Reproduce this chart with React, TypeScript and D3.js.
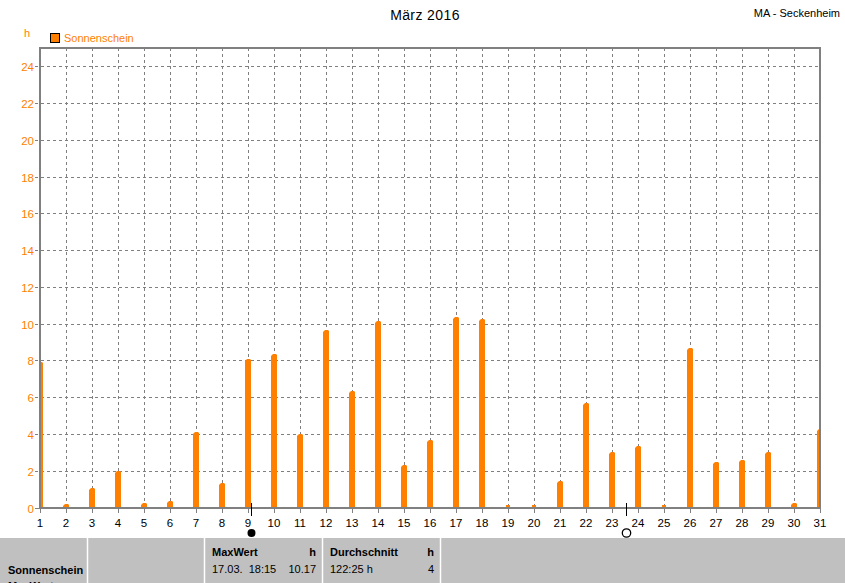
import React from "react";
import * as d3 from "d3";

const days: number[] = Array.from({ length: 31 }, (_, i) => i + 1);
const sunshine: number[] = [
  7.9, 0.19, 1.06, 1.99, 0.25, 0.38, 4.12, 1.35, 8.09, 8.36,
  4.0, 9.67, 6.34, 10.12, 2.29, 3.67, 10.38, 10.27, 0.05, 0.05,
  1.44, 5.69, 3.02, 3.35, 0.05, 8.7, 2.48, 2.59, 3.04, 0.22, 4.29,
];
const yTicks: number[] = [0, 2, 4, 6, 8, 10, 12, 14, 16, 18, 20, 22, 24];
const moonPhases: { day: number; type: "new" | "full" }[] = [
  { day: 9.12, type: "new" },
  { day: 23.54, type: "full" },
];
const title = "März 2016";
const station = "MA - Seckenheim";
const seriesName = "Sonnenschein";
const unit = "h";

const W = 845;
const H = 583;
const L = 40;
const R = 820;
const T = 48;
const B = 508;
const ORANGE = "#FF8000";
const GRID = "#808080";
const FONT = "'Liberation Sans', Arial, sans-serif";

export default function App() {
  const x = d3.scaleLinear().domain([1, 31]).range([L, R]);
  const y = d3.scaleLinear().domain([0, 25]).range([507.5, T]);
  const bw = 6;

  const barPath = (d: number, v: number) => {
    const cx = x(d);
    const x0 = Math.round(cx) - 3;
    const base = B;
    const top = Math.round(y(v));
    const h = base - top;
    if (h < 4) {
      const hh = Math.max(h, 3);
      return `M${x0 + 1},${base}V${base - hh}H${x0 + 5}V${base}Z`;
    }
    return `M${x0},${base}V${top + 2}L${x0 + 1},${top + 1}L${x0 + 2},${top}H${x0 + 5}L${x0 + bw},${top + 1}V${base}Z`;
  };

  return (
    <svg
      width={W}
      height={H}
      style={{ position: "fixed", left: 0, top: 0, background: "#fff" }}
      fontFamily={FONT}
    >
      <defs>
        <clipPath id="plotclip">
          <rect x={L} y={T} width={R - L} height={B - T} />
        </clipPath>
      </defs>
      <rect x={0} y={0} width={W} height={H} fill="#fff" />
      <text x={425} y={20} textAnchor="middle" fontSize={14} letterSpacing={0.4} fill="#000">
        {title}
      </text>
      <text x={840} y={17} textAnchor="end" fontSize={11} fill="#000">
        {station}
      </text>
      <text x={27} y={37} textAnchor="middle" fontSize={11} fill={ORANGE}>
        {unit}
      </text>
      <rect x={50.5} y={33.5} width={9} height={9} fill={ORANGE} stroke="#000" strokeWidth={1} />
      <text x={64} y={42} fontSize={11} fill={ORANGE}>
        {seriesName}
      </text>

      {yTicks.filter((t) => t > 0).map((t) => (
        <line
          key={"h" + t}
          x1={35}
          x2={R}
          y1={Math.round(y(t)) + 0.5}
          y2={Math.round(y(t)) + 0.5}
          stroke={GRID}
          strokeWidth={1}
          strokeDasharray="3,3"
        />
      ))}
      {days.slice(1, -1).map((d) => (
        <line
          key={"v" + d}
          x1={Math.round(x(d)) + 0.5}
          x2={Math.round(x(d)) + 0.5}
          y1={T}
          y2={B}
          stroke={GRID}
          strokeWidth={1}
          strokeDasharray="3,3"
        />
      ))}
      {days.map((d) => (
        <line
          key={"xt" + d}
          x1={Math.round(x(d)) + 0.5}
          x2={Math.round(x(d)) + 0.5}
          y1={B}
          y2={513}
          stroke={GRID}
          strokeWidth={1}
        />
      ))}
      <line x1={35} x2={L} y1={508.5} y2={508.5} stroke={GRID} strokeWidth={1} />

      <g clipPath="url(#plotclip)">
        {sunshine.map((v, i) => (
          <path key={"b" + i} d={barPath(days[i], v)} fill={ORANGE} />
        ))}
      </g>

      <rect x={L} y={T} width={R - L} height={B - T} fill="none" stroke={GRID} strokeWidth={2} />

      {yTicks.map((t) => (
        <text
          key={"yl" + t}
          x={34}
          y={Math.round(y(t)) + 4.5}
          textAnchor="end"
          fontSize={11.5}
          fill={ORANGE}
        >
          {t}
        </text>
      ))}
      {days.map((d) => (
        <text key={"xl" + d} x={x(d)} y={527} textAnchor="middle" fontSize={11.5} fill="#000">
          {d}
        </text>
      ))}

      {moonPhases.map((m, i) => {
        const mx = Math.round(x(m.day)) + 0.5;
        return (
          <g key={"m" + i}>
            <line x1={mx} x2={mx} y1={503} y2={516} stroke="#000" strokeWidth={1} />
            {m.type === "new" ? (
              <circle cx={mx} cy={533} r={4} fill="#000" />
            ) : (
              <circle cx={mx} cy={533} r={4.2} fill="none" stroke="#000" strokeWidth={1.3} />
            )}
          </g>
        );
      })}

      <rect x={0} y={538} width={W} height={H - 538} fill="#C0C0C0" />
      {[87.5, 204.5, 322.5, 440.5].map((sx) => (
        <line key={"s" + sx} x1={sx} x2={sx} y1={538} y2={H} stroke="#fff" strokeWidth={1.5} />
      ))}
      <text x={8} y={574} fontSize={11} fontWeight="bold" fill="#000">Sonnenschein</text>
      <text x={8} y={590} fontSize={11} fontWeight="bold" fill="#000">MaxWert</text>
      <text x={212} y={556} fontSize={11} fontWeight="bold" fill="#000">MaxWert</text>
      <text x={316} y={556} textAnchor="end" fontSize={11} fontWeight="bold" fill="#000">h</text>
      <text x={212} y={573} fontSize={11} fill="#000" style={{ whiteSpace: "pre" }}>{"17.03.  18:15"}</text>
      <text x={316} y={573} textAnchor="end" fontSize={11} fill="#000">10.17</text>
      <text x={330} y={556} fontSize={11} fontWeight="bold" fill="#000">Durchschnitt</text>
      <text x={434} y={556} textAnchor="end" fontSize={11} fontWeight="bold" fill="#000">h</text>
      <text x={330} y={573} fontSize={11} fill="#000">122:25 h</text>
      <text x={434} y={573} textAnchor="end" fontSize={11} fill="#000">4</text>
    </svg>
  );
}
